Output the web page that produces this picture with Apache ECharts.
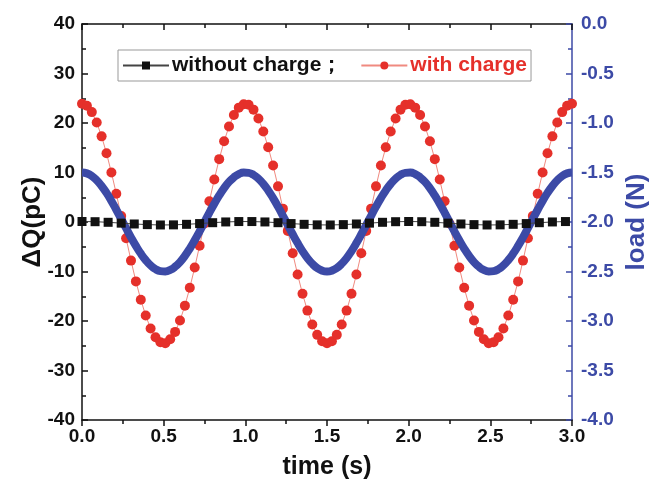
<!DOCTYPE html>
<html>
<head>
<meta charset="utf-8">
<script src="https://cdn.jsdelivr.net/npm/echarts@6/dist/echarts.min.js"></script>
<style>html,body{margin:0;padding:0;background:#fff;}#c{width:656px;height:484px;}</style>
</head>
<body>
<div id="c"></div>
<script>
// time grid for the "with charge" dots and the load curve (s)
var timeFine = [0.00,0.03,0.06,0.09,0.12,0.15,0.18,0.21,0.24,0.27,0.30,0.33,0.36,0.39,0.42,0.45,0.48,0.51,0.54,0.57,0.60,0.63,0.66,0.69,0.72,0.75,0.78,0.81,0.84,0.87,0.90,0.93,0.96,0.99,1.02,1.05,1.08,1.11,1.14,1.17,1.20,1.23,1.26,1.29,1.32,1.35,1.38,1.41,1.44,1.47,1.50,1.53,1.56,1.59,1.62,1.65,1.68,1.71,1.74,1.77,1.80,1.83,1.86,1.89,1.92,1.95,1.98,2.01,2.04,2.07,2.10,2.13,2.16,2.19,2.22,2.25,2.28,2.31,2.34,2.37,2.40,2.43,2.46,2.49,2.52,2.55,2.58,2.61,2.64,2.67,2.70,2.73,2.76,2.79,2.82,2.85,2.88,2.91,2.94,2.97,3.00];
// ΔQ with charge (pC)
var withCharge = [23.9,23.5,22.2,20.1,17.3,13.9,10.0,5.7,1.2,-3.3,-7.8,-12.0,-15.7,-18.9,-21.5,-23.3,-24.3,-24.5,-23.7,-22.2,-19.9,-16.9,-13.3,-9.2,-4.8,-0.3,4.2,8.6,12.7,16.3,19.3,21.6,23.1,23.8,23.7,22.7,20.9,18.3,15.1,11.4,7.2,2.7,-1.8,-6.3,-10.6,-14.5,-17.9,-20.7,-22.8,-24.1,-24.5,-24.1,-22.8,-20.7,-17.9,-14.5,-10.6,-6.3,-1.8,2.7,7.2,11.4,15.1,18.3,20.9,22.7,23.7,23.8,23.1,21.6,19.3,16.3,12.7,8.6,4.2,-0.3,-4.8,-9.2,-13.3,-16.9,-19.9,-22.2,-23.7,-24.5,-24.3,-23.3,-21.5,-18.9,-15.7,-12.0,-7.8,-3.3,1.2,5.7,10.0,13.9,17.3,20.1,22.2,23.5,23.9];
// load (N)
var load = [-1.500,-1.509,-1.535,-1.578,-1.636,-1.706,-1.787,-1.876,-1.969,-2.063,-2.155,-2.241,-2.319,-2.385,-2.438,-2.476,-2.496,-2.499,-2.484,-2.452,-2.405,-2.342,-2.268,-2.184,-2.094,-2.000,-1.906,-1.816,-1.732,-1.658,-1.595,-1.548,-1.516,-1.501,-1.504,-1.524,-1.562,-1.615,-1.681,-1.759,-1.845,-1.937,-2.031,-2.124,-2.213,-2.294,-2.365,-2.422,-2.465,-2.491,-2.500,-2.491,-2.465,-2.422,-2.365,-2.294,-2.213,-2.124,-2.031,-1.937,-1.845,-1.759,-1.681,-1.615,-1.562,-1.524,-1.504,-1.501,-1.516,-1.548,-1.595,-1.658,-1.732,-1.816,-1.906,-2.000,-2.094,-2.184,-2.268,-2.342,-2.405,-2.452,-2.484,-2.499,-2.496,-2.476,-2.438,-2.385,-2.319,-2.241,-2.155,-2.063,-1.969,-1.876,-1.787,-1.706,-1.636,-1.578,-1.535,-1.509,-1.500];
// time grid for the "without charge" squares (s)
var timeCoarse = [0.00,0.08,0.16,0.24,0.32,0.40,0.48,0.56,0.64,0.72,0.80,0.88,0.96,1.04,1.12,1.20,1.28,1.36,1.44,1.52,1.60,1.68,1.76,1.84,1.92,2.00,2.08,2.16,2.24,2.32,2.40,2.48,2.56,2.64,2.72,2.80,2.88,2.96];
// ΔQ without charge (pC)
var withoutCharge = [0.10,0.06,-0.06,-0.23,-0.40,-0.53,-0.60,-0.58,-0.47,-0.32,-0.14,0.01,0.09,0.09,0.01,-0.14,-0.32,-0.47,-0.58,-0.60,-0.53,-0.40,-0.23,-0.06,0.06,0.10,0.06,-0.06,-0.23,-0.40,-0.53,-0.60,-0.58,-0.47,-0.32,-0.14,0.01,0.09];

var names = ['without charge\uFF1B', 'with charge'];
var RED = '#e5302a', BLUE = '#3c4aa6', BLACK = '#111';
var FF = '"Liberation Sans", Arial, sans-serif';

function pairs(xs, ys){ return xs.map(function(x,i){ return [x, ys[i]]; }); }

var chart = echarts.init(document.getElementById('c'), null, {renderer:'canvas'});
var labelFont = {fontFamily:FF, fontWeight:'bold', fontSize:19};
chart.setOption({
  animation:false,
  backgroundColor:'#fff',
  grid:{left:82, right:84, top:24, bottom:64, containLabel:false, outerBoundsMode:'none'},
  legend:{
    left:118, top:50, itemGap:18, itemWidth:46, itemHeight:10,
    backgroundColor:'#fff', borderColor:'#999', borderWidth:1, borderRadius:0,
    padding:[5,4,5,4],
    textStyle:{fontFamily:FF, fontWeight:'bold', fontSize:21, padding:[0,0,0,-2]},
    data:[{name:names[0], textStyle:{color:BLACK}}, {name:names[1], textStyle:{color:RED}}]
  },
  xAxis:[{
    type:'value', min:0, max:3, interval:0.5,
    name:'time (s)', nameLocation:'middle', nameGap:35,
    nameTextStyle:{fontFamily:FF, fontWeight:'bold', fontSize:25, color:BLACK},
    axisLine:{onZero:false, lineStyle:{color:BLACK, width:1.5}},
    axisTick:{inside:false, length:6, lineStyle:{color:BLACK, width:1.5}},
    minorTick:{show:true, splitNumber:2, length:4, lineStyle:{color:BLACK, width:1.5}},
    splitLine:{show:false},
    axisLabel:Object.assign({color:BLACK, margin:7, formatter:function(v){return v.toFixed(1);}}, labelFont)
  },{
    type:'value', min:0, max:3, interval:0.5, position:'top',
    axisLine:{onZero:false, lineStyle:{color:BLACK, width:1.5}},
    axisTick:{inside:true, length:6, lineStyle:{color:BLACK, width:1.5}},
    minorTick:{show:true, splitNumber:2, length:4, lineStyle:{color:BLACK, width:1.5}},
    splitLine:{show:false}, axisLabel:{show:false}
  }],
  yAxis:[{
    type:'value', min:-40, max:40, interval:10, position:'left',
    name:'\u0394Q(pC)', nameLocation:'middle', nameGap:36, nameRotate:90, nameMoveOverlap:false,
    nameTextStyle:{fontFamily:FF, fontWeight:'bold', fontSize:26, color:BLACK},
    axisLine:{show:true, onZero:false, lineStyle:{color:BLACK, width:1.5}},
    axisTick:{show:true, inside:true, length:6, lineStyle:{color:BLACK, width:1.5}},
    minorTick:{show:true, splitNumber:2, length:4, lineStyle:{color:BLACK, width:1.5}},
    splitLine:{show:false},
    axisLabel:Object.assign({color:BLACK, margin:7}, labelFont)
  },{
    type:'value', min:-4, max:0, interval:0.5, position:'right',
    name:'load (N)', nameLocation:'middle', nameGap:52, nameRotate:90, nameMoveOverlap:false,
    nameTextStyle:{fontFamily:FF, fontWeight:'bold', fontSize:26, color:BLUE},
    axisLine:{show:true, onZero:false, lineStyle:{color:BLUE, width:1.5}},
    axisTick:{show:true, inside:true, length:6, lineStyle:{color:BLUE, width:1.5}},
    minorTick:{show:true, splitNumber:2, length:4, lineStyle:{color:BLUE, width:1.5}},
    splitLine:{show:false},
    axisLabel:Object.assign({color:BLUE, margin:9, formatter:function(v){return v.toFixed(1);}}, labelFont)
  }],
  series:[{
    name:names[1], type:'line', xAxisIndex:0, yAxisIndex:0, z:2,
    data:pairs(timeFine, withCharge),
    symbol:'circle', symbolSize:10,
    itemStyle:{color:RED},
    lineStyle:{color:'#f08a80', width:1}
  },{
    name:'load', type:'line', xAxisIndex:0, yAxisIndex:1, z:3,
    data:pairs(timeFine, load), smooth:true,
    showSymbol:false, symbol:'none',
    lineStyle:{color:BLUE, width:8}
  },{
    name:names[0], type:'line', xAxisIndex:0, yAxisIndex:0, z:4,
    data:pairs(timeCoarse, withoutCharge),
    symbol:'rect', symbolSize:9,
    itemStyle:{color:BLACK},
    lineStyle:{color:'#444', width:1}
  }]
});
</script>
</body>
</html>
